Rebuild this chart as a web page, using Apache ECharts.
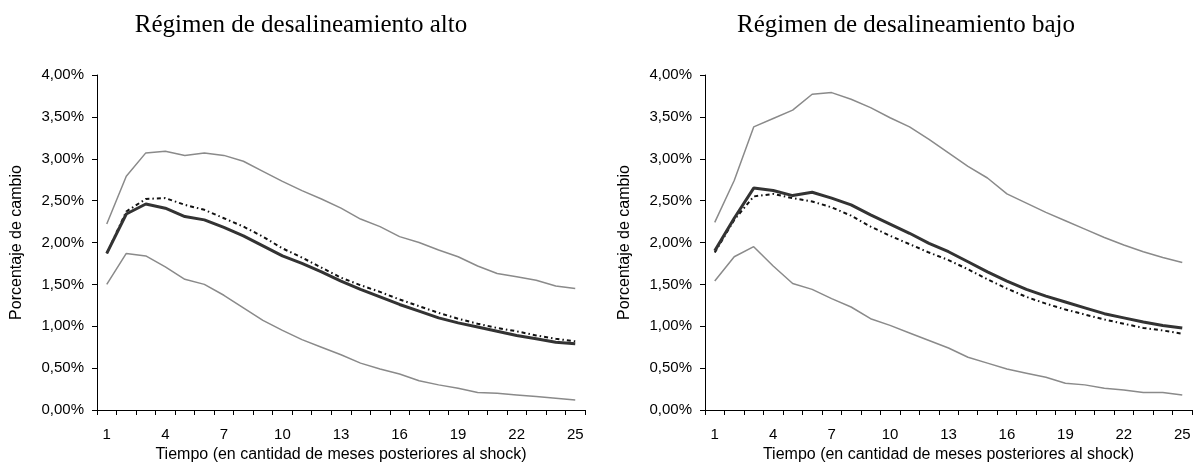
<!DOCTYPE html>
<html>
<head>
<meta charset="utf-8">
<script src="https://cdn.jsdelivr.net/npm/echarts@6/dist/echarts.min.js"></script>
<style>
  html, body { margin: 0; padding: 0; background: #fff; }
  #chart { width: 1196px; height: 468px; }
</style>
</head>
<body>
<div id="chart"></div>
<script>
// Months after the shock
const meses = Array.from({ length: 25 }, (_, i) => String(i + 1));

// Régimen de desalineamiento alto (percent)
const altoSuperior = [2.22, 2.79, 3.07, 3.09, 3.04, 3.07, 3.04, 2.97, 2.85, 2.73, 2.62, 2.52, 2.41, 2.28, 2.19, 2.07, 2.00, 1.91, 1.83, 1.72, 1.63, 1.59, 1.55, 1.48, 1.45];
const altoRespuesta = [1.87, 2.34, 2.46, 2.41, 2.31, 2.27, 2.18, 2.08, 1.96, 1.84, 1.75, 1.65, 1.54, 1.44, 1.35, 1.26, 1.18, 1.10, 1.04, 0.99, 0.94, 0.89, 0.85, 0.81, 0.79];
const altoLineal = [1.87, 2.37, 2.52, 2.53, 2.45, 2.39, 2.29, 2.19, 2.07, 1.93, 1.82, 1.70, 1.58, 1.49, 1.41, 1.32, 1.24, 1.16, 1.09, 1.03, 0.98, 0.94, 0.89, 0.85, 0.82];
const altoInferior = [1.50, 1.87, 1.84, 1.71, 1.56, 1.50, 1.37, 1.22, 1.07, 0.95, 0.84, 0.75, 0.66, 0.56, 0.49, 0.43, 0.35, 0.30, 0.26, 0.21, 0.20, 0.18, 0.16, 0.14, 0.12];

// Régimen de desalineamiento bajo (percent)
const bajoSuperior = [2.24, 2.74, 3.38, 3.48, 3.58, 3.77, 3.79, 3.71, 3.61, 3.49, 3.38, 3.23, 3.07, 2.91, 2.77, 2.58, 2.47, 2.36, 2.26, 2.16, 2.06, 1.97, 1.89, 1.82, 1.76];
const bajoRespuesta = [1.90, 2.29, 2.65, 2.62, 2.56, 2.60, 2.53, 2.45, 2.33, 2.22, 2.11, 1.99, 1.89, 1.77, 1.65, 1.54, 1.44, 1.36, 1.29, 1.22, 1.15, 1.10, 1.05, 1.01, 0.98];
const bajoLineal = [1.88, 2.27, 2.55, 2.58, 2.53, 2.49, 2.42, 2.32, 2.19, 2.08, 1.98, 1.88, 1.79, 1.68, 1.56, 1.45, 1.35, 1.27, 1.20, 1.14, 1.08, 1.03, 0.98, 0.95, 0.91];
const bajoInferior = [1.54, 1.83, 1.95, 1.72, 1.51, 1.44, 1.33, 1.23, 1.09, 1.01, 0.92, 0.83, 0.74, 0.63, 0.56, 0.49, 0.44, 0.39, 0.32, 0.30, 0.26, 0.24, 0.21, 0.21, 0.18];

const titulos = ['Régimen de desalineamiento alto', 'Régimen de desalineamiento bajo'];
const nombreX = 'Tiempo (en cantidad de meses posteriores al shock)';
const nombreY = 'Porcentaje de cambio';

const sans = 'Liberation Sans, Arial, sans-serif';
const serif = 'Liberation Serif, Times New Roman, serif';

const grids = [
  { left: 97, top: 75, width: 488, height: 339 },
  { left: 705, top: 75, width: 487, height: 339 }
];

function xAxisFor(i) {
  return {
    type: 'category', gridIndex: i, data: meses, boundaryGap: true,
    name: nombreX, nameLocation: 'middle', nameGap: 37,
    nameTextStyle: { fontFamily: sans, fontSize: 16, color: '#000' },
    axisLine: { lineStyle: { color: '#000', width: 1 } },
    axisTick: { show: true, interval: 0, length: 5, lineStyle: { color: '#000' } },
    axisLabel: { interval: 2, fontFamily: sans, fontSize: 15, color: '#000', margin: 17 },
    splitLine: { show: false }
  };
}

function yAxisFor(i) {
  return {
    type: 'value', gridIndex: i, min: 0, max: 4, interval: 0.5,
    name: nombreY, nameLocation: 'middle', nameGap: 72, nameRotate: 90,
    nameTextStyle: { fontFamily: sans, fontSize: 16, color: '#000' },
    axisLine: { show: true, lineStyle: { color: '#000', width: 1 } },
    axisTick: { show: true, length: 5, lineStyle: { color: '#000' } },
    axisLabel: {
      fontFamily: sans, fontSize: 15, color: '#000', margin: 13,
      formatter: v => v.toFixed(2).replace('.', ',') + '%'
    },
    splitLine: { show: false }
  };
}

function banda(name, data, i) {
  return {
    name, type: 'line', xAxisIndex: i, yAxisIndex: i, data,
    symbol: 'none', silent: true,
    lineStyle: { color: '#8a8a8a', width: 1.5 }
  };
}
function respuesta(name, data, i) {
  return {
    name, type: 'line', xAxisIndex: i, yAxisIndex: i, data,
    symbol: 'none', silent: true, z: 4,
    lineStyle: { color: '#333', width: 3 }
  };
}
function lineal(name, data, i) {
  return {
    name, type: 'line', xAxisIndex: i, yAxisIndex: i, data,
    symbol: 'none', silent: true, z: 3,
    lineStyle: { color: '#111', width: 2, type: [4, 3, 1.5, 3] }
  };
}

const chart = echarts.init(document.getElementById('chart'), null, { renderer: 'canvas' });
chart.setOption({
  backgroundColor: '#fff',
  animation: false,
  title: [
    { text: titulos[0], left: 296, top: 8, textAlign: 'center',
      textStyle: { fontFamily: serif, fontSize: 25, fontWeight: 'normal', color: '#000' } },
    { text: titulos[1], left: 901, top: 8, textAlign: 'center',
      textStyle: { fontFamily: serif, fontSize: 25, fontWeight: 'normal', color: '#000' } }
  ],
  grid: grids,
  xAxis: [xAxisFor(0), xAxisFor(1)],
  yAxis: [yAxisFor(0), yAxisFor(1)],
  series: [
    banda('Superior alto', altoSuperior, 0),
    banda('Inferior alto', altoInferior, 0),
    lineal('Lineal alto', altoLineal, 0),
    respuesta('Respuesta alto', altoRespuesta, 0),
    banda('Superior bajo', bajoSuperior, 1),
    banda('Inferior bajo', bajoInferior, 1),
    lineal('Lineal bajo', bajoLineal, 1),
    respuesta('Respuesta bajo', bajoRespuesta, 1)
  ]
});
</script>
</body>
</html>
